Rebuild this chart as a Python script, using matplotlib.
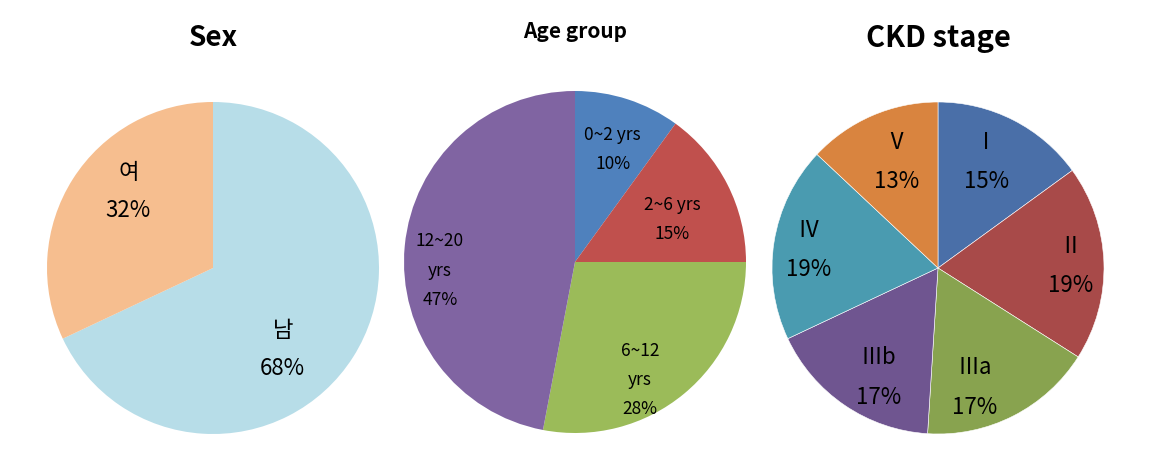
import matplotlib
matplotlib.use("Agg")
import matplotlib.pyplot as plt

plt.rcParams['font.family'] = ['Noto Sans CJK KR', 'DejaVu Sans']

# ---- data ----
sex_labels = ["남", "여"]
sex_values = [68, 32]

age_labels = ["0~2 yrs", "2~6 yrs", "6~12\nyrs", "12~20\nyrs"]
age_values = [10, 15, 28, 47]

ckd_labels = ["Ⅰ", "Ⅱ", "Ⅲa", "Ⅲb", "Ⅳ", "Ⅴ"]
ckd_values = [15, 19, 17, 17, 19, 13]

titles = ["Sex", "Age group", "CKD stage"]

# ---- style ----
sex_colors = ["#B7DDE8", "#F6BE8F"]
age_colors = ["#4F81BD", "#C0504D", "#9BBB59", "#8064A2"]
ckd_colors = ["#4A6FA8", "#A84A49", "#88A34F", "#6F5590", "#4A9BB0", "#D9843F"]

W, H = 1150, 476
fig = plt.figure(figsize=(W / 100, H / 100), dpi=100)
ax = fig.add_axes([0, 0, 1, 1])

# pie geometry in pixel units (y measured from top)
centers = [(213, 268), (575, 262), (938, 268)]
radii = [166, 171, 166]

# label offsets (in units of radius, x right / y up)
sex_pos = [(0.42, -0.49), (-0.51, 0.46)]
age_pos = [(0.22, 0.66), (0.57, 0.25), (0.38, -0.69), (-0.79, -0.05)]
ckd_pos = [(0.29, 0.64), (0.80, 0.01), (0.22, -0.72), (-0.36, -0.66),
           (-0.78, 0.11), (-0.25, 0.64)]

groups = [
    (sex_labels, sex_values, sex_colors, sex_pos, 16, 1.85, 0.0),
    (age_labels, age_values, age_colors, age_pos, 12.5, 1.8, 0.0),
    (ckd_labels, ckd_values, ckd_colors, ckd_pos, 16, 1.9, 0.4),
]

for (labels, vals, cols, pos, fs, ls, lw), (cx, cy), r in zip(groups, centers, radii):
    c = (cx, H - cy)
    ax.pie(vals, colors=cols, startangle=90, counterclock=False,
           center=c, radius=r,
           wedgeprops=dict(linewidth=lw, edgecolor="white"))
    for lab, v, (ox, oy) in zip(labels, vals, pos):
        ax.text(c[0] + ox * r, c[1] + oy * r, f"{lab}\n{v}%",
                ha="center", va="center", fontsize=fs, linespacing=ls,
                color="black")

title_sizes = [20, 15, 21]
title_y = [38, 32, 38]
for t, (cx, _), s, ty in zip(titles, centers, title_sizes, title_y):
    ax.text(cx, H - ty, t, ha="center", va="center", fontsize=s,
            fontweight="bold")

ax.set_xlim(0, W)
ax.set_ylim(0, H)
ax.set_aspect("equal")
ax.axis("off")

fig.savefig("out.png", dpi=100, facecolor="white")
